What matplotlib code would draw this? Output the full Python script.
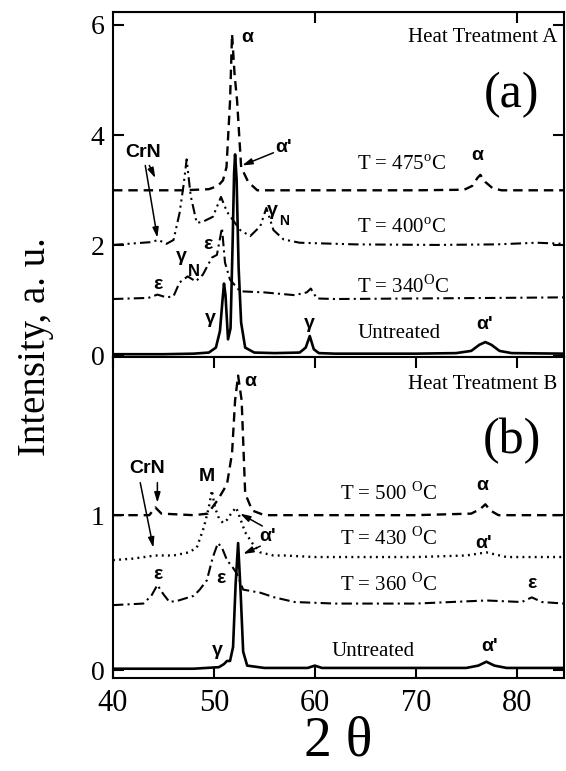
import matplotlib
matplotlib.use('Agg')
import matplotlib.pyplot as plt

plt.rcParams['font.family'] = ['Liberation Serif', 'DejaVu Serif']
plt.rcParams['mathtext.fontset'] = 'custom'
plt.rcParams['mathtext.rm'] = 'Liberation Serif'

# ---- panel (a): heat treatment A ----
un_a_x = [40, 45, 48, 49.5, 50.2, 50.6, 50.85, 51.0, 51.15, 51.4, 51.65, 51.85, 52.0, 52.1, 52.25,
          52.45, 52.7, 53.1, 54, 56, 58.5, 59.1, 59.5, 59.9, 60.4, 62, 70, 74, 75.5, 76.3, 76.9,
          77.5, 78.3, 79.5, 84.7]
un_a_y = [0.03, 0.03, 0.04, 0.06, 0.15, 0.45, 1.0, 1.31, 1.1, 0.3, 0.5, 2.0, 3.3, 3.65, 3.2,
          1.6, 0.6, 0.15, 0.06, 0.05, 0.06, 0.15, 0.36, 0.12, 0.05, 0.04, 0.04, 0.05, 0.09, 0.2, 0.25,
          0.2, 0.09, 0.05, 0.04]

t475_x = [40, 47, 49.5, 50.4, 50.9, 51.25, 51.6, 51.8, 52.05, 52.3, 52.7, 53.4, 54.3, 70,
          74.8, 75.6, 76.1, 76.4, 76.9, 77.6, 78.5, 84.7]
t475_y = [3.0, 3.0, 3.02, 3.08, 3.18, 3.42, 4.62, 5.83, 5.1, 4.62, 3.42, 3.15, 3.0, 3.0,
          3.01, 3.08, 3.22, 3.28, 3.15, 3.04, 3.0, 3.0]

t400_x = [40, 43.7, 44.5, 45.3, 46.0, 46.6, 47.0, 47.3, 47.7, 48.3, 48.9, 49.9, 50.7, 51.3,
          52.6, 53.6, 54.6, 55.2, 55.9, 56.9, 58.5, 64, 72, 78, 82, 84.7]
t400_y = [2.01, 2.06, 2.1, 2.03, 2.1, 2.59, 3.1, 3.56, 2.9, 2.41, 2.43, 2.52, 2.88, 2.61,
          2.28, 2.17, 2.35, 2.68, 2.28, 2.11, 2.05, 2.02, 2.01, 2.02, 2.05, 2.03]

t340_x = [40, 43.5, 44.4, 45.3, 46.0, 46.6, 47.4, 48.2, 48.9, 49.8, 50.3, 50.8, 51.1, 51.6,
          52.6, 55, 58, 59.2, 59.6, 60.2, 62, 70, 78, 84.7]
t340_y = [1.03, 1.05, 1.11, 1.06, 1.08, 1.33, 1.44, 1.35, 1.47, 1.78, 1.83, 2.32, 1.69, 1.38,
          1.17, 1.15, 1.1, 1.15, 1.22, 1.04, 1.03, 1.04, 1.05, 1.06]

# ---- panel (b): heat treatment B ----
un_b_x = [40, 48, 50.5, 51.0, 51.3, 51.6, 51.9, 52.15, 52.4, 52.65, 52.9, 53.3, 55, 59.3, 60.0,
          60.7, 70, 75, 76.2, 77.0, 77.8, 79, 84.7]
un_b_y = [0.01, 0.01, 0.02, 0.04, 0.06, 0.06, 0.15, 0.55, 0.82, 0.5, 0.12, 0.03, 0.015, 0.015, 0.03,
          0.015, 0.015, 0.015, 0.03, 0.055, 0.03, 0.015, 0.015]

t500_x = [40, 43.6, 44.2, 44.8, 48, 49.4, 50.4, 51.3, 51.8, 52.1, 52.4, 52.75, 53.1, 53.8, 55,
          70, 75.5, 76.4, 76.9, 77.4, 78.2, 84.7]
t500_y = [1.0, 1.0, 1.05, 1.01, 1.0, 1.01, 1.1, 1.2, 1.4, 1.74, 1.9, 1.74, 1.14, 1.03, 1.0,
          1.0, 1.01, 1.04, 1.07, 1.03, 1.0, 1.0]

t430_x = [40, 42, 44.2, 46, 47.5, 48.3, 49.0, 49.5, 49.8, 50.1, 50.5, 50.9, 51.3, 51.7, 52.2,
          52.6, 53.1, 53.8, 54.6, 55.9, 57, 60, 70, 75, 77, 79, 84.7]
t430_y = [0.71, 0.72, 0.74, 0.74, 0.76, 0.79, 0.92, 1.05, 1.16, 1.05, 0.98, 0.95, 0.97, 1.01, 1.05,
          0.98, 0.89, 0.82, 0.76, 0.74, 0.74, 0.73, 0.73, 0.74, 0.76, 0.73, 0.73]

t360_x = [40, 43.0, 43.8, 44.4, 45.0, 45.6, 46.5, 48.0, 48.6, 49.3, 49.9, 50.4, 50.8, 51.3,
          51.9, 52.3, 52.9, 54.6, 56, 58, 62, 70, 77, 80.5, 81.5, 82.5, 84.7]
t360_y = [0.42, 0.43, 0.48, 0.55, 0.49, 0.44, 0.45, 0.48, 0.52, 0.58, 0.73, 0.82, 0.79, 0.71,
          0.66, 0.62, 0.52, 0.5, 0.47, 0.44, 0.43, 0.43, 0.45, 0.44, 0.47, 0.44, 0.43]

x_ticks = [40, 50, 60, 70, 80]

DASH = (4, 2.5)
DASHDOTDOT = (5, 2, 1, 2, 1, 2)
DASHDOT = (5, 2, 1, 2)
DOT = (0.8, 1.8)

SANS = 'Liberation Sans'
lab = dict(family=SANS, fontweight='bold', fontsize=14, ha='center', va='center')
sub = dict(family=SANS, fontweight='bold', fontsize=10, ha='left', va='center')
tlab = dict(fontsize=15, ha='left', va='center')
arrow = dict(arrowstyle='-|>,head_length=0.6,head_width=0.18', lw=1.1, color='k',
             shrinkA=0, shrinkB=0)

fig = plt.figure(figsize=(5.66, 7.71), dpi=100)
ax1 = fig.add_axes([0.1996, 0.537, 0.797, 0.4474])
ax2 = fig.add_axes([0.1996, 0.1206, 0.797, 0.4164])

ax1.plot(un_a_x, un_a_y, color='k', lw=1.9)
ax1.plot(t475_x, t475_y, color='k', lw=1.7, dashes=DASH)
ax1.plot(t400_x, t400_y, color='k', lw=1.5, dashes=DASHDOTDOT)
ax1.plot(t340_x, t340_y, color='k', lw=1.5, dashes=DASHDOT)

ax2.plot(un_b_x, un_b_y, color='k', lw=1.9)
ax2.plot(t500_x, t500_y, color='k', lw=1.7, dashes=DASH)
ax2.plot(t430_x, t430_y, color='k', lw=1.7, dashes=DOT)
ax2.plot(t360_x, t360_y, color='k', lw=1.5, dashes=DASHDOT)

for ax in (ax1, ax2):
    ax.set_xlim(40, 84.7)
    ax.set_xticks(x_ticks)
    for s in ax.spines.values():
        s.set_linewidth(1.5)
    ax.tick_params(direction='in', length=8, width=1.5, right=True, labelsize=20, pad=6)

ax1.set_ylim(-0.02, 6.23)
ax1.set_yticks([0, 2, 4, 6])
ax1.tick_params(axis='x', bottom=False, labelbottom=False)
top_a = ax1.secondary_xaxis('top')
top_a.set_xticks([60, 80])
top_a.tick_params(direction='in', length=8, width=1.5, labeltop=False)

ax2.set_ylim(-0.05, 2.02)
ax2.set_yticks([0, 1])
ax2.tick_params(axis='x', top=True, labelsize=22, pad=8)

# panel (a) texts
ax1.text(84.0, 5.76, 'Heat Treatment A', fontsize=15, ha='right', va='center')
ax1.text(79.5, 4.72, '(a)', fontsize=36, ha='center', va='center')
ax1.text(64.2, 3.45, r'T = 475$^{\rm o}$C', **tlab)
ax1.text(64.2, 2.32, r'T = 400$^{\rm o}$C', **tlab)
ax1.text(64.2, 1.26, r'T = 340$^{\rm O}$C', **tlab)
ax1.text(64.2, 0.40, 'Untreated', **tlab)

ax1.text(53.3, 5.76, 'α', **lab)
ax1.text(76.1, 3.63, 'α', **lab)
ax1.text(49.6, 0.67, 'γ', **lab)
ax1.text(59.5, 0.58, 'γ', **lab)
ax1.text(76.8, 0.56, "α'", **lab)
ax1.text(44.4, 1.30, 'ε', **lab)
ax1.text(49.4, 2.01, 'ε', **lab)
ax1.text(46.8, 1.80, 'γ', **lab)
ax1.text(47.4, 1.52, 'N', family=SANS, fontweight='bold', fontsize=12, ha='left', va='center')
ax1.text(55.8, 2.64, 'γ', **lab)
ax1.text(56.5, 2.44, 'N', **sub)
ax1.text(43.0, 3.69, 'CrN', **lab)
ax1.annotate('', xy=(44.2, 3.22), xytext=(43.6, 3.45), arrowprops=arrow)
ax1.annotate('', xy=(44.4, 2.14), xytext=(43.2, 3.45), arrowprops=arrow)
ax1.text(56.9, 3.78, "α'", **lab)
ax1.annotate('', xy=(52.8, 3.45), xytext=(55.9, 3.68), arrowprops=arrow)

# panel (b) texts
ax2.text(84.0, 1.84, 'Heat Treatment B', fontsize=15, ha='right', va='center')
ax2.text(79.5, 1.48, '(b)', fontsize=36, ha='center', va='center')
ax2.text(62.5, 1.14, r'T = 500 $^{\rm O}$C', **tlab)
ax2.text(62.5, 0.85, r'T = 430 $^{\rm O}$C', **tlab)
ax2.text(62.5, 0.55, r'T = 360 $^{\rm O}$C', **tlab)
ax2.text(61.7, 0.12, 'Untreated', **tlab)

ax2.text(53.6, 1.86, 'α', **lab)
ax2.text(76.6, 1.19, 'α', **lab)
ax2.text(76.7, 0.82, "α'", **lab)
ax2.text(81.5, 0.56, 'ε', **lab)
ax2.text(77.3, 0.15, "α'", **lab)
ax2.text(50.3, 0.13, 'γ', **lab)
ax2.text(44.4, 0.62, 'ε', **lab)
ax2.text(50.7, 0.59, 'ε', **lab)
ax2.text(49.3, 1.25, 'M', **lab)
ax2.text(43.4, 1.30, 'CrN', **lab)
ax2.annotate('', xy=(44.4, 1.08), xytext=(44.4, 1.21), arrowprops=arrow)
ax2.annotate('', xy=(44.0, 0.79), xytext=(42.7, 1.21), arrowprops=arrow)
ax2.text(55.3, 0.86, "α'", **lab)
ax2.annotate('', xy=(52.9, 0.75), xytext=(54.6, 0.80), arrowprops=arrow)
ax2.annotate('', xy=(52.6, 1.01), xytext=(54.8, 0.93), arrowprops=arrow)

fig.text(0.062, 0.551, 'Intensity, a. u.', rotation=90, fontsize=28, ha='center', va='center')
fig.text(0.597, 0.038, '2 θ', fontsize=40, ha='center', va='center')

fig.savefig('out.png', dpi=100)
